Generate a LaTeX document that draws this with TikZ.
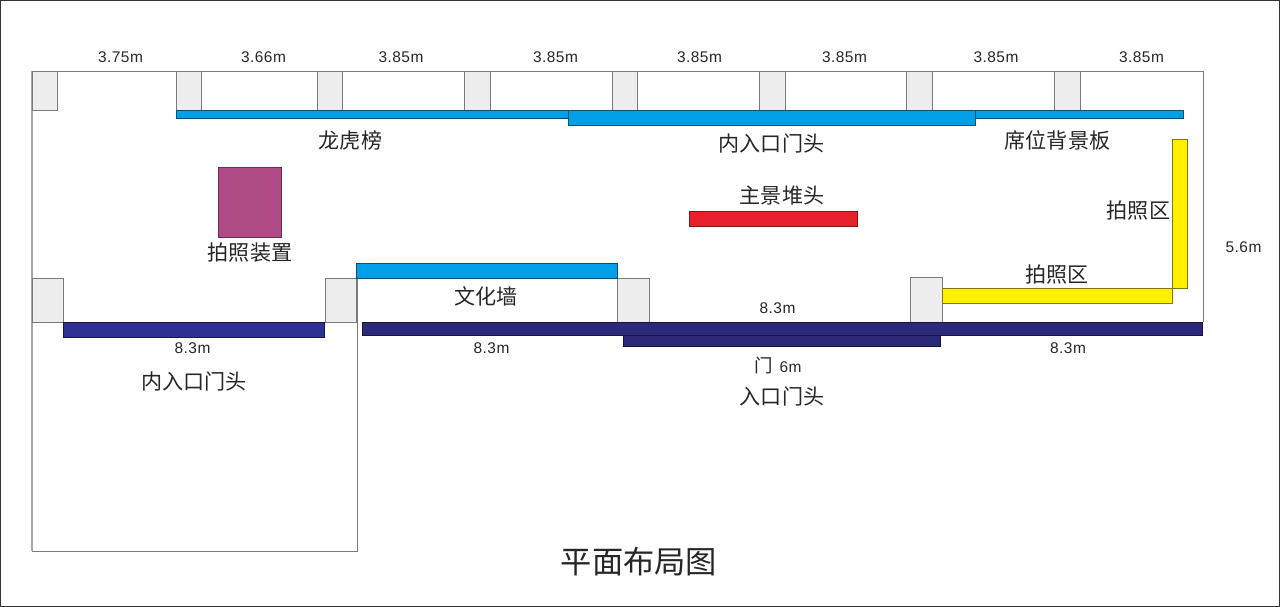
\documentclass[tikz,border=0pt]{standalone}
\usepackage{fontspec}
\setmainfont[LetterSpace=3]{Liberation Sans}
\newfontfamily\cjk{Noto Sans CJK SC}
\definecolor{pillarfill}{HTML}{EDEDED}
\definecolor{wallgray}{HTML}{7A7A7A}
\definecolor{barblue}{HTML}{00A0E9}
\definecolor{barnavy}{HTML}{2E3192}
\definecolor{bardark}{HTML}{2B2A78}
\definecolor{barred}{HTML}{E8202C}
\definecolor{baryellow}{HTML}{FFF000}
\definecolor{boxpurple}{HTML}{B04A87}
\tikzset{
  wall/.style={draw=wallgray,line width=0.45pt},
  pillar/.style={draw=wallgray,fill=pillarfill,line width=0.5pt},
  bluebar/.style={draw=black!50!barblue,fill=barblue,line width=0.4pt},
  navybar/.style={draw=black!50!barnavy,fill=barnavy,line width=0.4pt},
  darkbar/.style={draw=black!50!bardark,fill=bardark,line width=0.4pt},
  yellowbar/.style={draw=black!50!baryellow,fill=baryellow,line width=0.4pt},
  dimlabel/.style={text=black!85,font=\fontsize{8.8}{10}\selectfont,inner sep=0pt},
  zonelabel/.style={text=black!85,font=\cjk\fontsize{12}{14}\selectfont,inner sep=0pt},
}
\begin{document}
\begin{tikzpicture}[x=0.02cm,y=0.02cm]
\useasboundingbox (0,0) rectangle (1280,-607);
\draw [black!80,line width=1pt] (0.5,-0.5) rectangle (1279.5,-606.5);
% room outline
\draw [wall] (32,-71.3) -- (1203,-71.3) -- (1203,-322.5);
\draw [wall] (32,-551) -- (357,-551) -- (357,-278);
\draw [draw=black!35,line width=0.6pt] (32,-71.3) -- (32,-551);
\draw [black!75,line width=0.45pt] (32,-322.5) -- (357,-322.5);
% top pillars
\draw [pillar] (32,-71.3) rectangle (57.7,-110.3);
\draw [pillar] (176.3,-71.3) rectangle (201.7,-110.3);
\draw [pillar] (317.3,-71.3) rectangle (342.7,-110.3);
\draw [pillar] (464.7,-71.3) rectangle (490.3,-110.3);
\draw [pillar] (612.3,-71.3) rectangle (637.7,-110.3);
\draw [pillar] (759.3,-71.3) rectangle (785,-110.3);
\draw [pillar] (906.7,-71.3) rectangle (932.3,-110.3);
\draw [pillar] (1054.7,-71.3) rectangle (1080.3,-110.3);
% lower pillars
\draw [pillar] (32,-278) rectangle (63.7,-322.5);
\draw [pillar] (325,-278) rectangle (356.7,-322.5);
\draw [pillar] (617.7,-278) rectangle (649.7,-322.5);
\draw [pillar] (910.7,-277.3) rectangle (942.7,-322.5);
% bars
\draw [bluebar] (176.3,-110.3) rectangle (1183,-118);
\draw [bluebar] (568.3,-110.3) rectangle (975.7,-125.7);
\draw [bluebar] (356.7,-263) rectangle (617.7,-278);
\draw [navybar] (63.7,-322.5) rectangle (324.7,-337.3);
\draw [darkbar] (362,-322.5) rectangle (1202.7,-335.7);
\draw [darkbar] (623.7,-335.7) rectangle (940.7,-346.7);
\draw [yellowbar] (942.7,-288.3) rectangle (1172.7,-303.3);
\draw [yellowbar] (1172.5,-139.3) rectangle (1187.7,-288.5);
\draw [draw=black!40!barred,fill=barred,line width=0.4pt] (689,-211) rectangle (857,-226);
\draw [draw=black!40!boxpurple,fill=boxpurple,line width=0.4pt] (218.5,-167) rectangle (281.3,-237);
% top dimensions
\draw (120.5,-57) node [dimlabel] (dimA) {3.75m};
\draw (263.5,-57) node [dimlabel] (dimB) {3.66m};
\draw (401,-57) node [dimlabel] (dimC) {3.85m};
\draw (555.5,-57) node [dimlabel] (dimD) {3.85m};
\draw (699.5,-57) node [dimlabel] (dimE) {3.85m};
\draw (844.5,-57) node [dimlabel] (dimF) {3.85m};
\draw (996,-57) node [dimlabel] (dimG) {3.85m};
\draw (1141.5,-57) node [dimlabel] (dimH) {3.85m};
% other dimensions
\draw (1243.5,-247) node [dimlabel] (dimRight) {5.6m};
\draw (192.5,-348.5) node [dimlabel] (dimLeft) {8.3m};
\draw (491.5,-348.5) node [dimlabel] (dimMidA) {8.3m};
\draw (777.5,-308) node [dimlabel] (dimMidB) {8.3m};
\draw (1068,-348.5) node [dimlabel] (dimMidC) {8.3m};
% zone names
\draw (350.5,-140.5) node [zonelabel] (rollWall) {龙虎榜};
\draw (771.5,-143.5) node [zonelabel] (innerTop) {内入口门头};
\draw (1057.5,-140.5) node [zonelabel] (seatBoard) {席位背景板};
\draw (782,-195.5) node [zonelabel] (mainStack) {主景堆头};
\draw (250,-253) node [zonelabel] (photoSet) {拍照装置};
\draw (1138.5,-210.5) node [zonelabel] (photoRight) {拍照区};
\draw (1057,-274.5) node [zonelabel] (photoLow) {拍照区};
\draw (486,-296.5) node [zonelabel] (cultureWall) {文化墙};
\draw (194,-381.5) node [zonelabel] (innerLeft) {内入口门头};
\draw (778,-365) node [dimlabel] (doorSix) {{\cjk\fontsize{10.5}{12}\selectfont 门}\hspace{1pt} 6m};
\draw (782,-396) node [zonelabel] (entryTop) {入口门头};
\draw (639,-561.5) node [zonelabel,font=\cjk\fontsize{17.8}{20}\selectfont] (planTitle) {平面布局图};
\end{tikzpicture}
\end{document}
